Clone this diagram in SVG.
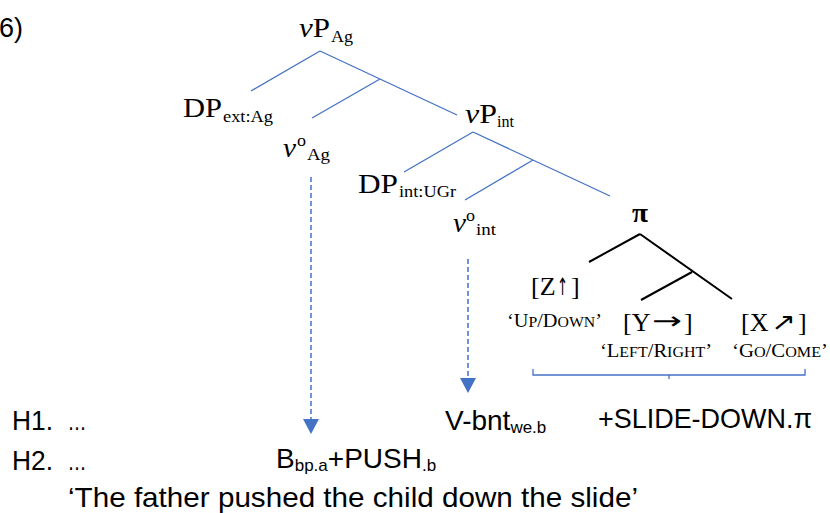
<svg xmlns="http://www.w3.org/2000/svg" width="830" height="513" viewBox="0 0 830 513">
<style>
.t{font-family:"Liberation Serif","Times New Roman",serif;fill:#000}
.m{font-size:27px}
.s{font-size:16px}
.i{font-style:italic}
.sc{font-size:18px}
.sm{font-size:14px}
.br{font-size:26px}
.ar{font-family:"DejaVu Sans",sans-serif;font-size:24px;fill:#000}
.c{font-family:"Liberation Sans",Arial,sans-serif;font-size:28px;fill:#000}
.cs{font-size:17px}
.el{font-family:"DejaVu Sans",sans-serif;font-size:22px;fill:#000}
.bl{stroke:#4472C4;stroke-width:1.3;fill:none}
.bk{stroke:#000;stroke-width:2;fill:none}
.da{stroke:#4472C4;stroke-width:1.5;stroke-dasharray:5 3;fill:none}
.ah{fill:#4472C4}
</style>
<rect width="830" height="513" fill="#fff"/>
<text class="c" x="-1" y="37" textLength="24" lengthAdjust="spacingAndGlyphs">6)</text>

<g id="connectors">
  <path class="bl" d="M320,51 L251,91 M320,51 L457,115 M380,79 L312,118"/>
  <path class="bl" d="M473,132 L404,172 M473,132 L610,196 M533,160 L465,200"/>
  <path class="bk" d="M640,234 L589,262 M640,234 L732,299 M692,272 L641,300"/>
  <path class="bl" d="M533,369 V375 H805 V369 M669,375 V379"/>
  <path class="da" d="M311,177 V419"/>
  <polygon class="ah" points="303,419 319,419 311,434"/>
  <path class="da" d="M468,259 V378"/>
  <polygon class="ah" points="460,378 476,378 468,393"/>
</g>

<g id="vPAg">
  <text class="t m" x="299" y="37" textLength="31" lengthAdjust="spacingAndGlyphs"><tspan class="i">v</tspan>P</text>
  <text class="t s" x="331" y="42" textLength="22" lengthAdjust="spacingAndGlyphs">Ag</text>
</g>
<g id="DPextAg">
  <text class="t m" x="183" y="117" textLength="39" lengthAdjust="spacingAndGlyphs">DP</text>
  <text class="t s" x="223" y="122" textLength="50" lengthAdjust="spacingAndGlyphs">ext:Ag</text>
</g>
<g id="voAg">
  <text class="t m i" x="283" y="157" textLength="13" lengthAdjust="spacingAndGlyphs">v</text>
  <text class="t s" x="297" y="146" textLength="9" lengthAdjust="spacingAndGlyphs">o</text>
  <text class="t s" x="307" y="160" textLength="23" lengthAdjust="spacingAndGlyphs">Ag</text>
</g>
<g id="vPint">
  <text class="t m" x="465" y="123" textLength="32" lengthAdjust="spacingAndGlyphs"><tspan class="i">v</tspan>P</text>
  <text class="t s" x="497" y="127" textLength="17" lengthAdjust="spacingAndGlyphs">int</text>
</g>
<g id="DPintUGr">
  <text class="t m" x="358" y="193" textLength="40" lengthAdjust="spacingAndGlyphs">DP</text>
  <text class="t s" x="399" y="197" textLength="57" lengthAdjust="spacingAndGlyphs">int:UGr</text>
</g>
<g id="voint">
  <text class="t m i" x="453" y="232" textLength="13" lengthAdjust="spacingAndGlyphs">v</text>
  <text class="t s" x="466" y="221" textLength="9" lengthAdjust="spacingAndGlyphs">o</text>
  <text class="t s" x="476" y="235" textLength="20" lengthAdjust="spacingAndGlyphs">int</text>
</g>
<g id="pi">
  <text class="t" x="632" y="222" font-size="28" font-weight="bold" textLength="16" lengthAdjust="spacingAndGlyphs">π</text>
</g>
<g id="Z">
  <text class="t br" x="531" y="295">[Z</text>
  <text class="ar" transform="translate(557,295) scale(0.55,1)">↑</text>
  <text class="t br" x="571" y="295">]</text>
  <text class="t sc" x="507" y="327" textLength="95" lengthAdjust="spacingAndGlyphs">‘U<tspan class="sm">P</tspan>/D<tspan class="sm">OWN</tspan>’</text>
</g>
<g id="Y">
  <text class="t br" x="623" y="331">[Y</text>
  <text class="ar" x="652" y="329" textLength="30" lengthAdjust="spacingAndGlyphs">→</text>
  <text class="t br" x="684" y="331">]</text>
  <text class="t sc" x="600" y="357" textLength="112" lengthAdjust="spacingAndGlyphs">‘L<tspan class="sm">EFT</tspan>/R<tspan class="sm">IGHT</tspan>’</text>
</g>
<g id="X">
  <text class="t br" x="741" y="331">[X</text>
  <text class="ar" x="771" y="330" textLength="25" lengthAdjust="spacingAndGlyphs">↗</text>
  <text class="t br" x="798" y="331">]</text>
  <text class="t sc" x="732" y="357" textLength="96" lengthAdjust="spacingAndGlyphs">‘G<tspan class="sm">O</tspan>/C<tspan class="sm">OME</tspan>’</text>
</g>

<g id="H1">
  <text class="c" x="12" y="430" textLength="41" lengthAdjust="spacingAndGlyphs">H1.</text>
  <text class="el" x="68" y="430" textLength="18" lengthAdjust="spacingAndGlyphs">…</text>
  <text class="c" x="445" y="430">V-bnt<tspan class="cs" dy="3">we.b</tspan></text>
  <text class="c" x="598" y="428" textLength="214" lengthAdjust="spacingAndGlyphs">+SLIDE-DOWN.π</text>
</g>
<g id="H2">
  <text class="c" x="12" y="470" textLength="41" lengthAdjust="spacingAndGlyphs">H2.</text>
  <text class="el" x="68" y="470" textLength="18" lengthAdjust="spacingAndGlyphs">…</text>
  <text class="c" x="276" y="468">B<tspan class="cs" dy="3">bp.a</tspan><tspan dy="-3">+PUSH</tspan><tspan class="cs" dy="3">.b</tspan></text>
</g>
<g id="gloss">
  <text class="c" x="68" y="507" textLength="570" lengthAdjust="spacingAndGlyphs">‘The father pushed the child down the slide’</text>
</g>
</svg>
